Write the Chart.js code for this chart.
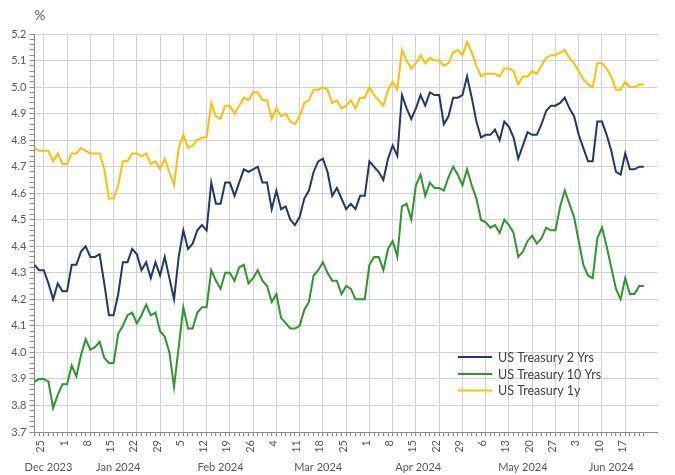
<!DOCTYPE html>
<html><head><meta charset="utf-8">
<script src="https://cdn.jsdelivr.net/npm/chart.js@4.4.1/dist/chart.umd.min.js"></script>
<style>html,body{margin:0;padding:0;background:#fff}#wrap{width:675px;height:475px;position:relative}canvas{display:block}</style>
</head><body><div id="wrap"><canvas id="c" width="675" height="475"></canvas></div>
<script>
// Business-day categories (Dec 21 2023 – Jun 21 2024)
const dates = [
 '2023-12-21','2023-12-22','2023-12-25','2023-12-26','2023-12-27','2023-12-28','2023-12-29',
 '2024-01-01','2024-01-02','2024-01-03','2024-01-04','2024-01-05','2024-01-08','2024-01-09','2024-01-10','2024-01-11','2024-01-12',
 '2024-01-15','2024-01-16','2024-01-17','2024-01-18','2024-01-19','2024-01-22','2024-01-23','2024-01-24','2024-01-25','2024-01-26',
 '2024-01-29','2024-01-30','2024-01-31',
 '2024-02-01','2024-02-02','2024-02-05','2024-02-06','2024-02-07','2024-02-08','2024-02-09','2024-02-12','2024-02-13','2024-02-14',
 '2024-02-15','2024-02-16','2024-02-19','2024-02-20','2024-02-21','2024-02-22','2024-02-23','2024-02-26','2024-02-27','2024-02-28','2024-02-29',
 '2024-03-01','2024-03-04','2024-03-05','2024-03-06','2024-03-07','2024-03-08','2024-03-11','2024-03-12','2024-03-13','2024-03-14',
 '2024-03-15','2024-03-18','2024-03-19','2024-03-20','2024-03-21','2024-03-22','2024-03-25','2024-03-26','2024-03-27','2024-03-28','2024-03-29',
 '2024-04-01','2024-04-02','2024-04-03','2024-04-04','2024-04-05','2024-04-08','2024-04-09','2024-04-10','2024-04-11','2024-04-12',
 '2024-04-15','2024-04-16','2024-04-17','2024-04-18','2024-04-19','2024-04-22','2024-04-23','2024-04-24','2024-04-25','2024-04-26',
 '2024-04-29','2024-04-30',
 '2024-05-01','2024-05-02','2024-05-03','2024-05-06','2024-05-07','2024-05-08','2024-05-09','2024-05-10','2024-05-13','2024-05-14',
 '2024-05-15','2024-05-16','2024-05-17','2024-05-20','2024-05-21','2024-05-22','2024-05-23','2024-05-24','2024-05-27','2024-05-28',
 '2024-05-29','2024-05-30','2024-05-31',
 '2024-06-03','2024-06-04','2024-06-05','2024-06-06','2024-06-07','2024-06-10','2024-06-11','2024-06-12','2024-06-13','2024-06-14',
 '2024-06-17','2024-06-18','2024-06-19','2024-06-20','2024-06-21'
];
const emptySlots = ['', '', ''];
const monthLabels = ['Dec 2023','Jan 2024','Feb 2024','Mar 2024','Apr 2024','May 2024','Jun 2024'];
const seriesNames = ['US Treasury 2 Yrs','US Treasury 10 Yrs','US Treasury 1y'];

const us2y = [
 4.33,4.31,4.31,4.26,4.20,4.26,4.23,4.23,4.33,4.33,
 4.38,4.40,4.36,4.36,4.37,4.26,4.14,4.14,4.22,4.34,
 4.34,4.39,4.37,4.31,4.34,4.28,4.34,4.29,4.36,4.28,
 4.20,4.36,4.46,4.39,4.41,4.46,4.48,4.46,4.64,4.56,
 4.56,4.64,4.64,4.59,4.64,4.69,4.68,4.69,4.70,4.64,
 4.64,4.54,4.61,4.54,4.55,4.50,4.48,4.51,4.58,4.61,
 4.68,4.72,4.73,4.68,4.59,4.62,4.58,4.54,4.56,4.54,
 4.59,4.59,4.72,4.70,4.68,4.65,4.73,4.78,4.74,4.97,
 4.92,4.88,4.92,4.97,4.93,4.98,4.97,4.97,4.86,4.89,
 4.96,4.96,4.97,5.04,4.96,4.87,4.81,4.82,4.82,4.84,
 4.80,4.87,4.85,4.81,4.73,4.78,4.83,4.82,4.82,4.86,
 4.91,4.93,4.93,4.94,4.96,4.92,4.89,4.82,4.77,4.72,
 4.72,4.87,4.87,4.82,4.76,4.68,4.67,4.75,4.69,4.69,
 4.70,4.70
];
const us10y = [
 3.89,3.90,3.90,3.89,3.79,3.84,3.88,3.88,3.95,3.91,
 3.99,4.05,4.01,4.02,4.04,3.98,3.96,3.96,4.07,4.10,
 4.14,4.15,4.11,4.14,4.18,4.14,4.15,4.08,4.06,4.00,
 3.87,4.02,4.17,4.09,4.09,4.15,4.17,4.17,4.31,4.27,
 4.24,4.30,4.30,4.27,4.32,4.33,4.26,4.28,4.31,4.27,
 4.25,4.19,4.22,4.13,4.11,4.09,4.09,4.10,4.16,4.19,
 4.29,4.31,4.34,4.30,4.27,4.27,4.22,4.25,4.24,4.20,
 4.20,4.20,4.33,4.36,4.36,4.31,4.39,4.42,4.36,4.55,
 4.56,4.50,4.63,4.67,4.59,4.64,4.62,4.62,4.61,4.66,
 4.70,4.67,4.63,4.69,4.63,4.58,4.50,4.49,4.47,4.48,
 4.45,4.50,4.48,4.45,4.36,4.38,4.42,4.44,4.41,4.43,
 4.47,4.46,4.46,4.55,4.61,4.56,4.51,4.42,4.33,4.29,
 4.28,4.43,4.47,4.40,4.32,4.24,4.20,4.28,4.22,4.22,
 4.25,4.25
];
const us1y = [
 4.77,4.76,4.76,4.76,4.72,4.75,4.71,4.71,4.75,4.75,
 4.77,4.76,4.75,4.75,4.75,4.69,4.58,4.58,4.63,4.72,
 4.72,4.75,4.75,4.74,4.75,4.71,4.72,4.69,4.73,4.68,
 4.63,4.77,4.82,4.77,4.78,4.80,4.81,4.81,4.94,4.89,
 4.88,4.93,4.93,4.90,4.93,4.96,4.95,4.98,4.98,4.95,
 4.95,4.88,4.92,4.89,4.90,4.87,4.86,4.89,4.94,4.95,
 4.99,4.99,5.00,4.99,4.94,4.95,4.92,4.93,4.95,4.92,
 4.96,4.96,5.00,4.97,4.95,4.93,4.99,5.02,4.99,5.14,
 5.10,5.07,5.09,5.12,5.09,5.11,5.10,5.10,5.08,5.09,
 5.13,5.14,5.12,5.17,5.13,5.08,5.04,5.05,5.05,5.05,
 5.04,5.07,5.07,5.06,5.01,5.04,5.04,5.06,5.05,5.08,
 5.11,5.12,5.12,5.13,5.14,5.11,5.09,5.06,5.03,5.01,
 5.00,5.09,5.09,5.07,5.04,4.99,4.99,5.02,5.00,5.00,
 5.01,5.01
];

const colors = ['#1f3a68', '#2f962c', '#ffc000'];
const FONT = 'Lato, "Liberation Sans", sans-serif';
const TXT = '#595959';
const GRID = '#cfd3d6';
const AXIS = '#8c8c8c';

const allLabels = dates.concat(emptySlots);
function isMonday(i){
  if (i >= dates.length) return false;
  const d = new Date(dates[i] + 'T12:00:00');
  return d.getDay() === 1;
}
function dayOf(i){ return String(parseInt(dates[i].slice(8,10), 10)); }

const extras = {
  id: 'extras',
  afterDraw(chart){
    const ctx = chart.ctx, xs = chart.scales.x;
    ctx.save();
    ctx.fillStyle = TXT;
    ctx.textAlign = 'center';
    ctx.textBaseline = 'middle';
    ctx.font = '13.5px ' + FONT;
    ctx.fillText('%', 40, 16);
    ctx.font = '11px ' + FONT;
    let start = 0, mi = 0;
    for (let i = 1; i <= dates.length; i++) {
      if (i === dates.length || dates[i].slice(0,7) !== dates[start].slice(0,7)) {
        const cx = (xs.getPixelForValue(start) + xs.getPixelForValue(i-1)) / 2;
        ctx.fillText(monthLabels[mi++], cx, 467);
        start = i;
      }
    }
    // legend
    const rows = [357, 374, 390.5];
    ctx.textAlign = 'left';
    ctx.font = '12.5px ' + FONT;
    for (let k = 0; k < 3; k++) {
      ctx.strokeStyle = colors[k];
      ctx.lineWidth = 2;
      ctx.beginPath();
      ctx.moveTo(458, rows[k]);
      ctx.lineTo(492, rows[k]);
      ctx.stroke();
      ctx.fillStyle = '#404040';
      ctx.fillText(seriesNames[k], 498, rows[k] + 0.5);
    }
    ctx.restore();
  }
};

const mk = (k, data) => ({
  label: seriesNames[k], data, borderColor: colors[k], backgroundColor: colors[k],
  borderWidth: 2, pointRadius: 0, tension: 0, fill: false
});

new Chart(document.getElementById('c'), {
  type: 'line',
  data: { labels: allLabels, datasets: [mk(0, us2y), mk(1, us10y), mk(2, us1y)] },
  options: {
    responsive: false, animation: false, devicePixelRatio: 1,
    layout: { padding: { left: 0, top: 34, right: 3, bottom: 0 } },
    plugins: { legend: { display: false }, tooltip: { enabled: false } },
    scales: {
      x: {
        type: 'category', offset: false,
        grid: {
          color: c => isMonday(c.index) ? GRID : 'rgba(0,0,0,0)',
          tickColor: c => c.index < dates.length ? AXIS : 'rgba(0,0,0,0)',
          tickLength: 4, lineWidth: 1
        },
        border: { color: AXIS, width: 1 },
        ticks: {
          autoSkip: false, maxRotation: 90, minRotation: 90, padding: 4, labelOffset: -3,
          color: TXT, font: { family: FONT, size: 11 },
          callback: (v, i) => isMonday(i) ? dayOf(i) : ''
        },
        afterFit: s => { s.height = 43; }
      },
      y: {
        min: 3.7, max: 5.2,
        grid: {
          color: c => {
            const v = c.tick ? c.tick.value : 0;
            return Math.abs(v * 10 - Math.round(v * 10)) < 1e-6 ? GRID : 'rgba(0,0,0,0)';
          },
          tickColor: AXIS, tickLength: 5
        },
        border: { color: AXIS, width: 1 },
        ticks: {
          stepSize: 0.02, maxTicksLimit: 200, autoSkip: false, padding: 3,
          color: TXT, font: { family: FONT, size: 11 },
          callback: v => Math.abs(v * 10 - Math.round(v * 10)) < 1e-6 ? v.toFixed(1) : ''
        },
        afterFit: s => { s.width = 34.5; }
      }
    }
  },
  plugins: [extras]
});
</script>
</body></html>
